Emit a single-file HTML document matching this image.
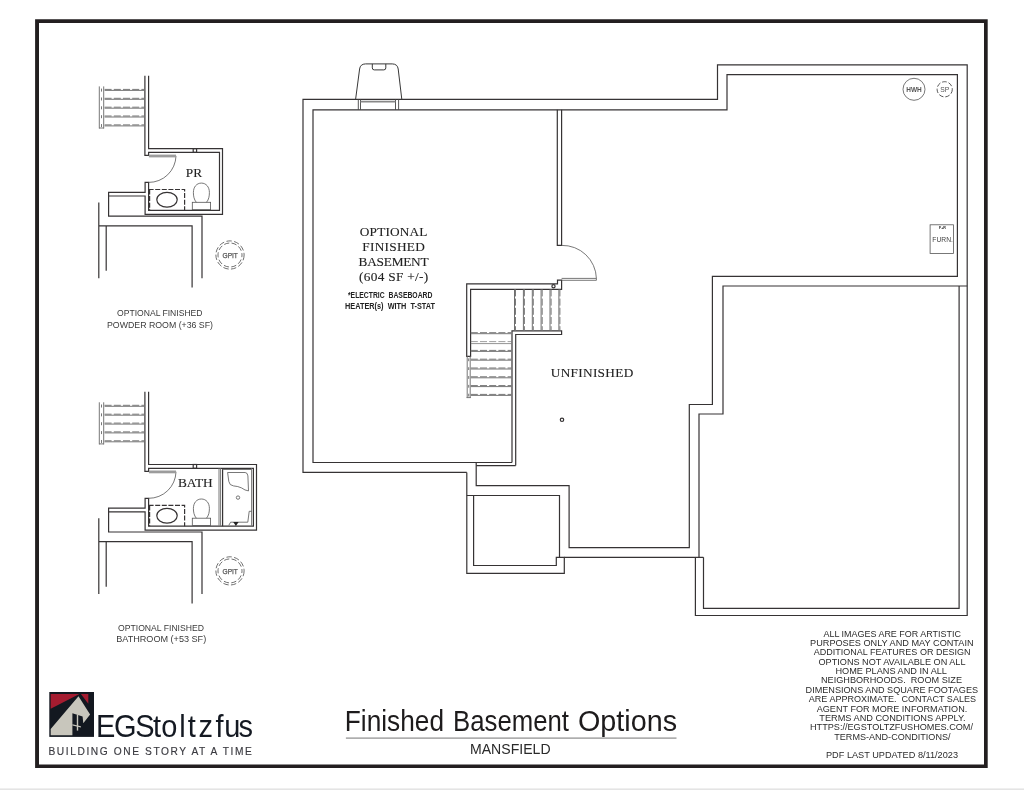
<!DOCTYPE html>
<html lang="en">
<head>
<meta charset="utf-8">
<title>Finished Basement Options - Mansfield</title>
<style>
html,body{margin:0;padding:0;background:#fff;}
body{width:1024px;height:790px;overflow:hidden;position:relative;}
svg{position:absolute;left:0;top:0;display:block;will-change:transform;}
.w{fill:none;stroke:#363334;stroke-width:1.2;stroke-linejoin:miter;stroke-linecap:butt;}
.t{fill:none;stroke:#555;stroke-width:0.8;}
.g{fill:none;stroke:#777;stroke-width:1;}
.gd{fill:none;stroke:#777;stroke-width:1;stroke-dasharray:7 2.2;}
.serif{font-family:"Liberation Serif",serif;fill:#222;}
.sans{font-family:"Liberation Sans",sans-serif;fill:#333;}
</style>
</head>
<body>
<svg width="1024" height="790" viewBox="0 0 1024 790">
<rect x="0" y="0" width="1024" height="790" fill="#fff"/>
<rect x="0" y="788.4" width="1024" height="1.6" fill="#e4e4e4"/>
<!-- page frame -->
<path d="M35.1,19.2 H987.7 V767.9 H35.1 Z M39,23 V764.5 H984 V23 Z" fill="#231f20" fill-rule="evenodd"/>

<!-- ===== MAIN PLAN WALLS ===== -->
<g class="w" id="main">
<!-- outer perimeter -->
<path d="M466.8,472.4 H303 V99.35 H717.5 V64.8 H967.2 V615.5 H695.4 V557.3"/>
<!-- inner finished basement + upper room -->
<path d="M512,462.5 H313 V109.85 H727 V74.6 H957.4 V276.3 H712.4 V404.5 H689.3 V547.6 H569.1 V485.7 H476.2 V462.5"/>
<path d="M476.2,465.6 H515.7"/>
<!-- garage -->
<path d="M967.2,286 H723 V414 H699 V557.3"/>
<path d="M959.1,286 V608.3 H703.5 V557.3"/>
<!-- line under unfinished -->
<path d="M564.3,557.3 H703.4"/>
<!-- lower-left box -->
<path d="M466.8,472.4 V573.3 H564.3 V557.3 H556.3 V565.5 H473.6 V495.5"/>
<path d="M466.8,495.5 H559.5 V557.3"/>
<!-- partition -->
<path d="M557.3,109.85 V245.4 H561.6 V109.85"/>
<path d="M557.5,280.2 H561.6 V289.4 H470.6 V356.3 H466.7 V283.9 H557.5 Z"/>
<!-- stair mid wall -->
<path d="M512,462.5 V330.8 H561.6 V334.5 H515.7 V465.6"/>
</g>

<!-- ===== MAIN STAIRS ===== -->
<g id="mstairs">
<!-- upper flight: vertical treads -->
<path class="g" d="M514.5,289.4 V330.6 M523.4,289.4 V330.6 M532.3,289.4 V330.6 M541.1,289.4 V330.6 M550.0,289.4 V330.6 M558.9,289.4 V330.6" stroke-width="0.9" style="stroke:#6e6e6e"/>
<path class="gd" d="M515.5,289.4 V330.6 M524.4,289.4 V330.6 M533.3,289.4 V330.6 M542.2,289.4 V330.6 M551.1,289.4 V330.6 M559.9,289.4 V330.6" stroke-width="1.15" style="stroke:#7a7a7a"/>
<!-- lower flight: horizontal treads -->
<g class="g">
<path d="M470.8,333.7 H511.6 M470.8,351.4 H511.6 M470.8,360.2 H511.6 M470.8,369.0 H511.6 M470.8,377.8 H511.6 M470.8,386.6 H511.6 M470.8,395.4 H511.6"/>
<path d="M470.8,343.6 H511.6" stroke-width="0.8"/>
</g>
<g class="gd">
<path d="M470.8,332.7 H511.6 M470.8,350.4 H511.6 M470.8,359.2 H511.6 M470.8,368.0 H511.6 M470.8,376.8 H511.6 M470.8,385.6 H511.6 M470.8,394.4 H511.6"/>
<path d="M470.8,341.6 H511.6" stroke-width="0.7"/>
</g>
<!-- rail -->
<path class="g" d="M467.2,356.3 V398 M470.2,356.3 V398" stroke-width="1.3"/>
<path class="g" d="M466.6,397.6 H470.8" stroke-width="1"/>
<path class="g" d="M468.7,358.4 V398" stroke-width="1.8" stroke-dasharray="2.8 6.03"/>
</g>

<!-- ===== DOOR ===== -->
<path class="t" d="M561.6,245.4 A34,34 0 0 1 596.4,278.4" />
<path class="t" d="M561.6,278.4 H596.4 V280.3 H561.6"/>
<circle class="w" cx="553.5" cy="286.3" r="1.6" stroke-width="0.9"/>
<circle class="w" cx="562" cy="419.8" r="1.7" stroke-width="0.9"/>

<!-- ===== WINDOW WELL ===== -->
<path class="t" style="stroke:#383838;stroke-width:1" d="M355.6,99.35 L359.6,69 Q360.3,64 365.5,63.9 H392.3 Q397.5,64 398.2,69 L401.8,99.35"/>
<path class="t" style="stroke:#383838;stroke-width:1" d="M372.3,63.9 V67.9 Q372.3,69.9 374.3,69.9 H383.8 Q385.8,69.9 385.8,67.9 V63.9"/>
<path class="t" style="stroke:#444;stroke-width:0.9" d="M358.3,99.35 V109.85 M360.5,99.35 V109.85 M395.5,99.35 V109.85 M398.6,99.35 V109.85"/>
<path class="g" d="M360.5,101.7 H395.5" style="stroke-width:1.8;stroke:#888"/>

<!-- ===== EQUIPMENT ===== -->
<circle class="t" cx="914" cy="89.3" r="11" stroke-width="0.75"/>
<text class="sans" x="914" y="91.9" font-size="7" font-weight="bold" text-anchor="middle" textLength="15.5" lengthAdjust="spacingAndGlyphs" fill="#555" style="fill:#555">HWH</text>
<circle class="t" cx="944.7" cy="89.3" r="7.6" style="stroke:#444;stroke-width:0.9" stroke-dasharray="4.6 2"/>
<text class="sans" x="944.7" y="92.2" font-size="8" text-anchor="middle" textLength="9" lengthAdjust="spacingAndGlyphs" style="fill:#555">SP</text>
<rect class="t" x="930.1" y="224.8" width="23.3" height="28.6" stroke-width="0.75" stroke="#666"/>
<text class="sans" x="942.6" y="241.6" font-size="7.6" text-anchor="middle" textLength="20.6" lengthAdjust="spacingAndGlyphs" style="fill:#444">FURN.</text>
<text class="sans" x="942.5" y="228.7" font-size="3.6" font-weight="bold" text-anchor="middle" style="fill:#222">F+R</text>

<!-- ===== MAIN TEXT ===== -->
<g class="serif" font-size="13.3" text-anchor="middle" style="fill:#222;stroke:#222;stroke-width:0.12">
<text x="393.6" y="236.4" textLength="67.5" lengthAdjust="spacing">OPTIONAL</text>
<text x="393.6" y="251" textLength="62.5" lengthAdjust="spacing">FINISHED</text>
<text x="393.6" y="265.5" textLength="70" lengthAdjust="spacing">BASEMENT</text>
<text x="393.6" y="281" textLength="69" lengthAdjust="spacing">(604 SF +/-)</text>
<text x="592" y="377.2" textLength="82.5" lengthAdjust="spacing">UNFINISHED</text>
</g>
<g class="sans" font-size="8.6" font-weight="bold" text-anchor="middle" style="fill:#222;white-space:pre">
<text x="390.2" y="298.3" textLength="84.5" lengthAdjust="spacingAndGlyphs" xml:space="preserve">*ELECTRIC  BASEBOARD</text>
<text x="390" y="309.1" textLength="90" lengthAdjust="spacingAndGlyphs" xml:space="preserve">HEATER(s)  WITH  T-STAT</text>
</g>

<!-- ===== POWDER ROOM OPTION ===== -->
<g transform="translate(0,0)">
<g class="w">
<path d="M148.6,75.8 V148.6 H222.5 V214.3 H145.1 V196 H108.6"/>
<path d="M144.9,75.8 V155.4 H148.6 V152.4 H219.5 V210.3 H148.6 V182.4 H145.1 V192.3 H108.6 V216.1 H202 V278.2"/>
<path d="M98.8,202.4 V278.2 M98.8,225.8 H192.1 V287.5 M106.2,225.8 V270.8"/>
</g>
<rect class="w" x="193.2" y="148.6" width="3.4" height="3.8" stroke-width="0.9"/>
<path class="g" d="M104.6,90.4 H144.2 M104.6,99.3 H144.2 M104.6,108.2 H144.2 M104.6,117.0 H144.2 M104.6,125.9 H144.2"/>
<path class="gd" d="M104.6,89.4 H144.2 M104.6,98.3 H144.2 M104.6,107.2 H144.2 M104.6,116.0 H144.2 M104.6,124.9 H144.2"/>
<path class="g" d="M99.3,86.4 V128.5 M103.7,86.4 V128.5" stroke-width="1.9"/>
<path class="g" d="M99,128 H104" stroke-width="1"/>
<path class="g" d="M101.5,88.6 V128" stroke-width="2.6" stroke-dasharray="3 5.87"/>
<path class="t" d="M176,155.9 A27.2,27.2 0 0 1 148.6,182.4"/>
<path d="M148.9,156 H176" fill="none" stroke="#9c9c9c" stroke-width="2.8"/>
<path class="w" d="M148.6,189.5 H184.6 V210.3" stroke-dasharray="5 1.6" stroke-width="1.1"/>
<path class="w" d="M149.6,189.5 V210.3" stroke-dasharray="5 1.6" stroke-width="0.9"/>
<ellipse class="w" cx="167" cy="199.8" rx="10.2" ry="7.4" stroke-width="1.3" stroke="#222"/>
<path class="t" d="M196.3,202.3 C194,199.6 193.4,196 193.4,192.5 C193.4,187 196.6,183.1 201.4,183.1 C206.2,183.1 209.4,187 209.4,192.5 C209.4,196 208.8,199.6 206.5,202.3" stroke-width="0.75"/>
<rect class="t" x="192.3" y="202.3" width="18.3" height="7.4" stroke-width="0.75"/>
<circle class="t" cx="230" cy="255" r="14.1" stroke-dasharray="5.4 2.4" stroke-width="1" stroke="#4a4a4a" style="stroke:#4a4a4a"/>
<circle class="t" cx="230" cy="255" r="12" stroke-dasharray="5.2 2.4" stroke-dashoffset="3" stroke-width="1" style="stroke:#4a4a4a"/>
<text class="sans" x="230.2" y="257.7" font-size="7.4" text-anchor="middle" textLength="15.4" lengthAdjust="spacingAndGlyphs" style="fill:#555;stroke:#555;stroke-width:0.25">GPIT</text>
<text class="serif" x="194" y="177.3" font-size="13.3" text-anchor="middle" style="stroke:#222;stroke-width:0.12">PR</text>
</g>
<!-- ===== BATHROOM OPTION ===== -->
<g transform="translate(0,315.9)">
<g class="w">
<path d="M148.6,75.8 V148.6 H256.5 V214.3 H145.1 V196 H108.6"/>
<path d="M144.9,75.8 V155.4 H148.6 V152.4 H253.4 V210.3 H148.6 V182.4 H145.1 V192.3 H108.6 V216.1 H202 V278.2"/>
<path d="M98.8,202.4 V278.2 M98.8,225.8 H192.1 V287.5 M106.2,225.8 V270.8"/>
</g>
<rect class="w" x="193.2" y="148.6" width="3.4" height="3.8" stroke-width="0.9"/>
<path class="g" d="M104.6,90.4 H144.2 M104.6,99.3 H144.2 M104.6,108.2 H144.2 M104.6,117.0 H144.2 M104.6,125.9 H144.2"/>
<path class="gd" d="M104.6,89.4 H144.2 M104.6,98.3 H144.2 M104.6,107.2 H144.2 M104.6,116.0 H144.2 M104.6,124.9 H144.2"/>
<path class="g" d="M99.3,86.4 V128.5 M103.7,86.4 V128.5" stroke-width="1.9"/>
<path class="g" d="M99,128 H104" stroke-width="1"/>
<path class="g" d="M101.5,88.6 V128" stroke-width="2.6" stroke-dasharray="3 5.87"/>
<path class="t" d="M176,155.9 A27.2,27.2 0 0 1 148.6,182.4"/>
<path d="M148.9,156 H176" fill="none" stroke="#9c9c9c" stroke-width="2.8"/>
<path class="w" d="M148.6,189.5 H184.6 V210.3" stroke-dasharray="5 1.6" stroke-width="1.1"/>
<path class="w" d="M149.6,189.5 V210.3" stroke-dasharray="5 1.6" stroke-width="0.9"/>
<ellipse class="w" cx="167" cy="199.8" rx="10.2" ry="7.4" stroke-width="1.3" stroke="#222"/>
<path class="t" d="M196.3,202.3 C194,199.6 193.4,196 193.4,192.5 C193.4,187 196.6,183.1 201.4,183.1 C206.2,183.1 209.4,187 209.4,192.5 C209.4,196 208.8,199.6 206.5,202.3" stroke-width="0.75"/>
<rect class="t" x="192.3" y="202.3" width="18.3" height="7.4" stroke-width="0.75"/>
<circle class="t" cx="230" cy="255" r="14.1" stroke-dasharray="5.4 2.4" stroke-width="1" stroke="#4a4a4a" style="stroke:#4a4a4a"/>
<circle class="t" cx="230" cy="255" r="12" stroke-dasharray="5.2 2.4" stroke-dashoffset="3" stroke-width="1" style="stroke:#4a4a4a"/>
<text class="sans" x="230.2" y="257.7" font-size="7.4" text-anchor="middle" textLength="15.4" lengthAdjust="spacingAndGlyphs" style="fill:#555;stroke:#555;stroke-width:0.25">GPIT</text>
<text class="serif" x="195.3" y="171.1" font-size="13.3" text-anchor="middle" textLength="34.8" lengthAdjust="spacingAndGlyphs" style="stroke:#222;stroke-width:0.12">BATH</text>
<path class="g" d="M219,152.4 V210.3 M220.6,152.4 V210.3" stroke-width="0.8" stroke="#777"/>
<path class="w" d="M222.6,152.4 V210.3" stroke-width="1.2"/>
<path class="g" d="M251.6,152.4 V210.3 M222.6,153.6 H251.6" stroke-width="0.8" stroke="#888"/>
<path class="t" d="M227.6,156.6 H245.2 Q247.6,156.8 247.9,160 L248.5,175 Q245,174.6 241.5,172 Q238,170.3 233.5,170 Q229.4,169.6 228.8,165.5 Z" stroke-width="0.75"/>
<circle class="t" cx="238" cy="181.7" r="1.7" stroke-width="0.75"/>
<path class="t" d="M228.8,209.4 L230.6,206.3 H247.8 L249.2,195.4 H251.6" stroke-width="0.75"/>
<path d="M233.2,206 H238.6 L235.9,210 Z" fill="#222"/>
</g>
<!-- option captions -->
<g class="sans" font-size="8.9" text-anchor="middle" style="fill:#3a3a3a">
<text x="159.8" y="316.4" textLength="85.5" lengthAdjust="spacingAndGlyphs">OPTIONAL FINISHED</text>
<text x="160" y="327.7" textLength="106" lengthAdjust="spacingAndGlyphs">POWDER ROOM (+36 SF)</text>
<text x="161" y="631" textLength="86" lengthAdjust="spacingAndGlyphs">OPTIONAL FINISHED</text>
<text x="161.2" y="641.8" textLength="90" lengthAdjust="spacingAndGlyphs">BATHROOM (+53 SF)</text>
</g>

<!-- ===== DISCLAIMER ===== -->
<g class="sans" font-size="9.45" text-anchor="middle" style="fill:#2b2b2b;white-space:pre">
<text x="892.2" y="636.55" textLength="137.5" lengthAdjust="spacingAndGlyphs" xml:space="preserve">ALL IMAGES ARE FOR ARTISTIC</text>
<text x="891.8" y="645.95" textLength="163.5" lengthAdjust="spacingAndGlyphs" xml:space="preserve">PURPOSES ONLY AND MAY CONTAIN</text>
<text x="892.1" y="655.35" textLength="156.8" lengthAdjust="spacingAndGlyphs" xml:space="preserve">ADDITIONAL FEATURES OR DESIGN</text>
<text x="892.0" y="664.65" textLength="147.0" lengthAdjust="spacingAndGlyphs" xml:space="preserve">OPTIONS NOT AVAILABLE ON ALL</text>
<text x="891.2" y="674.05" textLength="111.5" lengthAdjust="spacingAndGlyphs" xml:space="preserve">HOME PLANS AND IN ALL</text>
<text x="891.5" y="683.45" textLength="141.0" lengthAdjust="spacingAndGlyphs" xml:space="preserve">NEIGHBORHOODS.  ROOM SIZE</text>
<text x="891.8" y="692.75" textLength="172.5" lengthAdjust="spacingAndGlyphs" xml:space="preserve">DIMENSIONS AND SQUARE FOOTAGES</text>
<text x="892.4" y="702.15" textLength="167.2" lengthAdjust="spacingAndGlyphs" xml:space="preserve">ARE APPROXIMATE.  CONTACT SALES</text>
<text x="892.0" y="711.55" textLength="150.5" lengthAdjust="spacingAndGlyphs" xml:space="preserve">AGENT FOR MORE INFORMATION.</text>
<text x="892.4" y="720.85" textLength="146.2" lengthAdjust="spacingAndGlyphs" xml:space="preserve">TERMS AND CONDITIONS APPLY.</text>
<text x="891.5" y="730.25" textLength="163.0" lengthAdjust="spacingAndGlyphs" xml:space="preserve"><tspan>HTTPS:</tspan><tspan>//EGSTOLTZFUSHOMES.COM/</tspan></text>
<text x="892.4" y="739.55" textLength="116.2" lengthAdjust="spacingAndGlyphs" xml:space="preserve">TERMS-AND-CONDITIONS/</text>
<text x="892" y="757.75" textLength="132" lengthAdjust="spacingAndGlyphs">PDF LAST UPDATED 8/11/2023</text>
</g>

<!-- ===== TITLE ===== -->
<g class="sans" font-size="30" style="fill:#1d1b1c">
<text x="344.8" y="731" textLength="99.2" lengthAdjust="spacingAndGlyphs">Finished</text>
<text x="453" y="731" textLength="116" lengthAdjust="spacingAndGlyphs">Basement</text>
<text x="578" y="731" textLength="99" lengthAdjust="spacingAndGlyphs">Options</text>
</g>
<rect x="345.9" y="737.5" width="330.6" height="1.2" fill="#8c8c8c"/>
<text class="sans" x="510.3" y="753.6" font-size="14.3" text-anchor="middle" textLength="80.6" lengthAdjust="spacingAndGlyphs" style="fill:#2a2a2a">MANSFIELD</text>

<!-- ===== LOGO ===== -->
<g id="logo">
<rect x="49.3" y="692" width="44.7" height="44.9" fill="#131820"/>
<polygon points="50.7,693.9 79.4,693.9 50.7,708.7" fill="#a51c30"/>
<polygon points="80.9,693.9 88.3,693.9 88.3,703.7" fill="#a51c30"/>
<polygon points="50.7,728.9 78.5,696.3 90.1,714.4 83.3,723.2 82.6,716.5 72.4,713.3 72.4,735.3 50.7,735.3" fill="#c8c6bc"/>
<rect x="76.8" y="714.6" width="1.4" height="16" fill="#c8c6bc"/>
<polygon points="72.4,724.2 80.9,726.2 80.9,727.5 72.4,725.5" fill="#c8c6bc"/>
<text class="sans" transform="scale(0.9,1)" x="106.58 126.81 150.38 170.12 179.21 199.19 208.73 220.54 239.44 249.29 264.97" y="736.8" font-size="32.2" style="fill:#141922">EGStoltzfus</text>
<text class="sans" x="48.4" y="754.6" font-size="10.2" textLength="203.4" lengthAdjust="spacing" style="fill:#3a3a40;stroke:#3a3a40;stroke-width:0.15">BUILDING ONE STORY AT A TIME</text>
</g>
</svg>
</body>
</html>
